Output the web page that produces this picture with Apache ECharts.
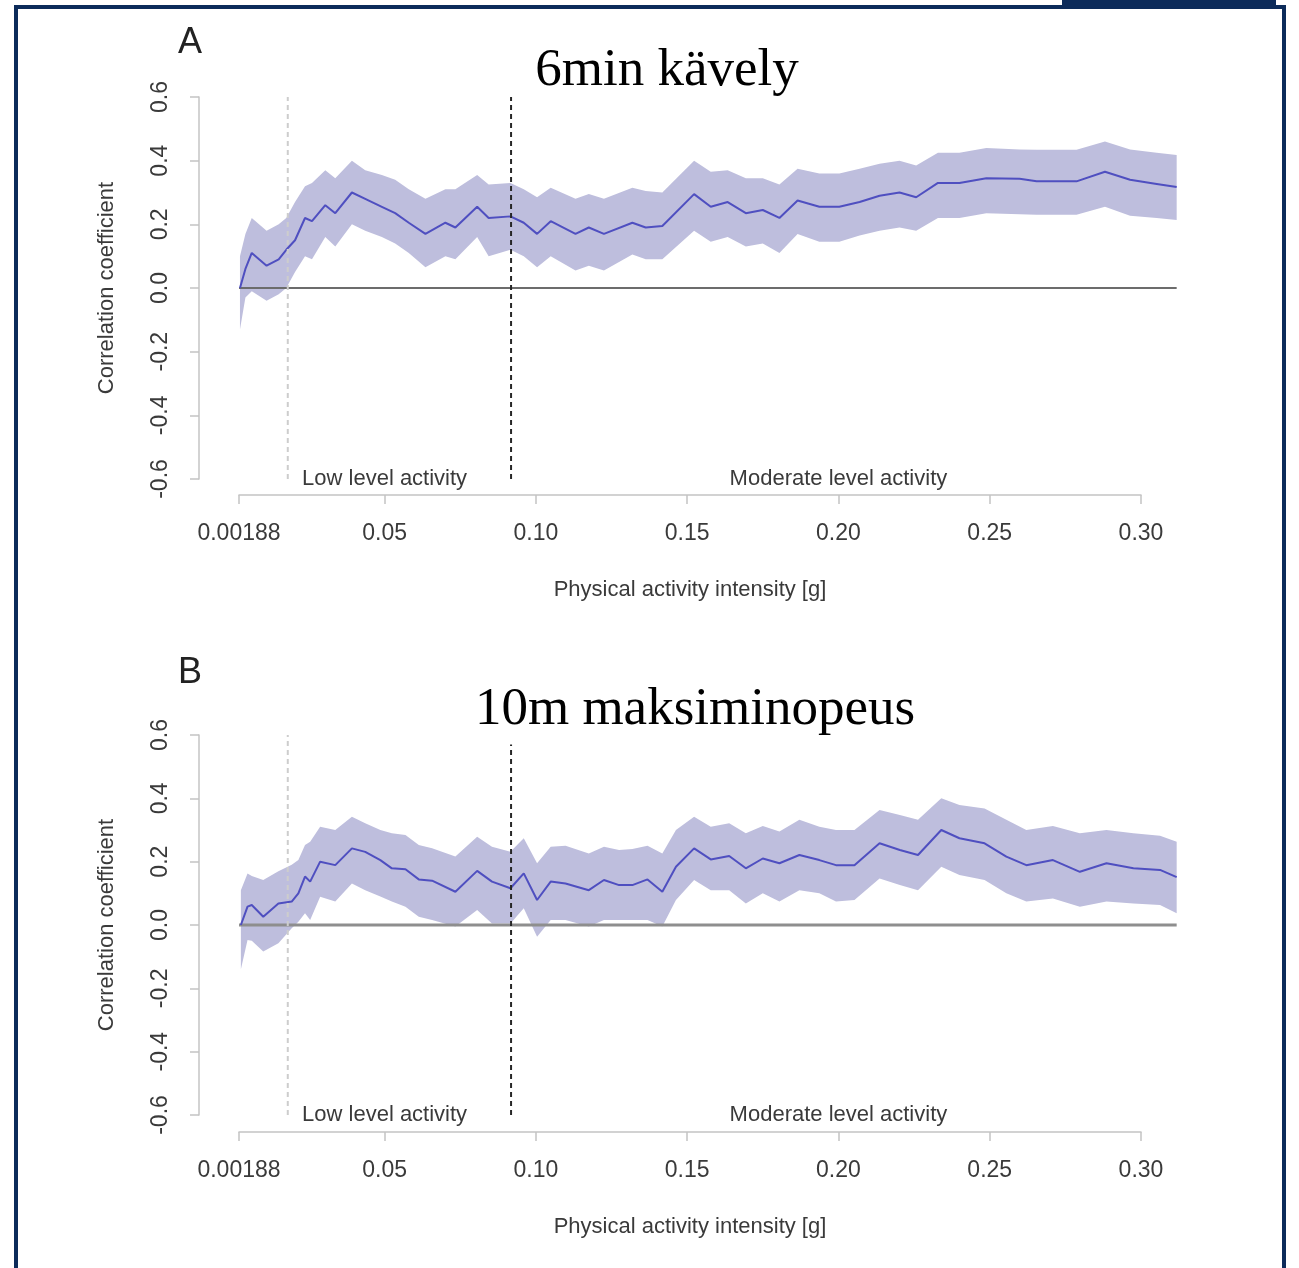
<!DOCTYPE html>
<html>
<head>
<meta charset="UTF-8">
<title>Correlation vs activity intensity</title>
<script src="https://cdn.jsdelivr.net/npm/echarts@6.0.0/dist/echarts.min.js"></script>
<style>
  html, body { margin: 0; padding: 0; background: #fff; }
  #main { width: 1299px; height: 1268px; }
</style>
</head>
<body>
<div id="main"></div>
<script>
// ---- data ----
var xTickVals = [0.00188, 0.05, 0.10, 0.15, 0.20, 0.25, 0.30];
var xTickLabels = ['0.00188', '0.05', '0.10', '0.15', '0.20', '0.25', '0.30'];
var yTickVals = [-0.6, -0.4, -0.2, 0, 0.2, 0.4, 0.6];
var yTickLabels = ['-0.6', '-0.4', '-0.2', '0.0', '0.2', '0.4', '0.6'];

var lowCut = 0.0180;   // light dashed line
var modCut = 0.0918;   // dark dashed line
var cutSpan = [-0.6, 0.6];
var zoneLabels = ['Low level activity', 'Moderate level activity'];
var zoneLabelX = [0.05, 0.20];
var zeroLineX = [0.00188, 0.3118];

var titles = ['6min kävely', '10m maksiminopeus'];
var panelLetters = ['A', 'B'];

// panel A: 6min walk
var xA = [0.0022, 0.0040, 0.0061, 0.0110, 0.0150, 0.0175, 0.0204, 0.0237, 0.0260, 0.0304,
  0.0337, 0.0392, 0.0436, 0.0491, 0.0535, 0.0580, 0.0635, 0.0701, 0.0734, 0.0806,
  0.0844, 0.0916, 0.0960, 0.1004, 0.1049, 0.1131, 0.1175, 0.1225, 0.1319, 0.1363,
  0.1418, 0.1523, 0.1578, 0.1634, 0.1694, 0.1750, 0.1805, 0.1865, 0.1937, 0.2003,
  0.2070, 0.2136, 0.2202, 0.2257, 0.2329, 0.2400, 0.2489, 0.2599, 0.2655, 0.2787,
  0.2881, 0.2964, 0.3052, 0.3118];
var meanA = [0.00, 0.06, 0.11, 0.07, 0.09, 0.12, 0.15, 0.22, 0.21, 0.26,
  0.235, 0.30, 0.28, 0.255, 0.235, 0.205, 0.17, 0.205, 0.19, 0.255,
  0.22, 0.225, 0.205, 0.17, 0.21, 0.17, 0.19, 0.17, 0.205, 0.19,
  0.195, 0.295, 0.255, 0.27, 0.235, 0.245, 0.22, 0.275, 0.255, 0.255,
  0.27, 0.29, 0.30, 0.285, 0.33, 0.33, 0.345, 0.343, 0.335, 0.335,
  0.365, 0.34, 0.327, 0.317];
var lowA = [-0.13, -0.03, -0.01, -0.04, -0.02, 0.00, 0.05, 0.10, 0.09, 0.16,
  0.13, 0.20, 0.18, 0.16, 0.14, 0.11, 0.065, 0.10, 0.09, 0.16,
  0.10, 0.12, 0.10, 0.065, 0.10, 0.055, 0.07, 0.055, 0.105, 0.09,
  0.09, 0.18, 0.145, 0.16, 0.13, 0.14, 0.11, 0.17, 0.145, 0.145,
  0.165, 0.18, 0.19, 0.18, 0.22, 0.22, 0.235, 0.232, 0.23, 0.23,
  0.255, 0.227, 0.22, 0.214];
var highA = [0.10, 0.17, 0.22, 0.18, 0.20, 0.22, 0.27, 0.32, 0.33, 0.37,
  0.345, 0.40, 0.37, 0.355, 0.34, 0.31, 0.28, 0.31, 0.31, 0.355,
  0.325, 0.33, 0.31, 0.285, 0.315, 0.28, 0.295, 0.28, 0.315, 0.305,
  0.30, 0.40, 0.365, 0.37, 0.345, 0.345, 0.325, 0.375, 0.36, 0.36,
  0.375, 0.39, 0.40, 0.385, 0.425, 0.425, 0.44, 0.435, 0.434, 0.434,
  0.46, 0.435, 0.425, 0.418];

// panel B: 10m max speed
var xB = [0.0025, 0.0047, 0.0061, 0.0099, 0.0149, 0.0193, 0.0215, 0.0237, 0.0254, 0.0287,
  0.0337, 0.0392, 0.0436, 0.0486, 0.0524, 0.0569, 0.0613, 0.0657, 0.0734, 0.0806,
  0.0855, 0.0916, 0.0960, 0.1004, 0.1049, 0.1098, 0.1175, 0.1225, 0.1275, 0.1319,
  0.1369, 0.1418, 0.1463, 0.1523, 0.1578, 0.1639, 0.1694, 0.1750, 0.1805, 0.1871,
  0.1937, 0.1992, 0.2053, 0.2136, 0.2203, 0.2263, 0.2340, 0.2400, 0.2483, 0.2555,
  0.2621, 0.2709, 0.2798, 0.2886, 0.2975, 0.3063, 0.3118];
var meanB = [0.00, 0.058, 0.063, 0.026, 0.068, 0.074, 0.10, 0.153, 0.137, 0.20,
  0.189, 0.242, 0.231, 0.205, 0.179, 0.176, 0.144, 0.14, 0.105, 0.171,
  0.137, 0.116, 0.163, 0.079, 0.137, 0.131, 0.11, 0.142, 0.126, 0.126,
  0.144, 0.105, 0.184, 0.242, 0.207, 0.218, 0.179, 0.21, 0.195, 0.221,
  0.205, 0.189, 0.189, 0.258, 0.237, 0.221, 0.30, 0.274, 0.258, 0.216,
  0.189, 0.205, 0.168, 0.195, 0.179, 0.174, 0.151];
var lowB = [-0.14, -0.047, -0.05, -0.084, -0.058, -0.01, 0.01, 0.037, 0.016, 0.089,
  0.074, 0.131, 0.11, 0.09, 0.074, 0.058, 0.026, 0.016, -0.005, 0.047,
  0.005, 0.005, 0.053, -0.037, 0.016, 0.016, -0.005, 0.016, 0.016, 0.016,
  0.016, -0.005, 0.079, 0.142, 0.11, 0.11, 0.068, 0.10, 0.074, 0.11,
  0.10, 0.074, 0.079, 0.147, 0.126, 0.11, 0.184, 0.158, 0.142, 0.10,
  0.074, 0.084, 0.058, 0.074, 0.068, 0.063, 0.037];
var highB = [0.11, 0.163, 0.155, 0.142, 0.17, 0.19, 0.205, 0.253, 0.263, 0.31,
  0.30, 0.342, 0.321, 0.30, 0.29, 0.284, 0.253, 0.242, 0.216, 0.279,
  0.247, 0.231, 0.274, 0.195, 0.247, 0.25, 0.226, 0.247, 0.237, 0.24,
  0.25, 0.226, 0.30, 0.342, 0.31, 0.321, 0.29, 0.313, 0.295, 0.332,
  0.31, 0.30, 0.30, 0.363, 0.347, 0.332, 0.40, 0.379, 0.368, 0.332,
  0.30, 0.313, 0.29, 0.30, 0.29, 0.282, 0.263];

// ---- chart ----
var myChart = echarts.init(document.getElementById('main'), null, { renderer: 'canvas' });

var sansFont = 'Liberation Sans, Arial, sans-serif';
var textGrey = '#3a3a3a';
var axisGrey = '#c4c4c4';
var bandColor = '#bebedd';

function pairs(xs, ys) {
  return xs.map(function (v, i) { return [v, ys[i]]; });
}

function labelFor(vals, labels) {
  return function (v) {
    for (var i = 0; i < vals.length; i++) {
      if (Math.abs(vals[i] - v) < 1e-9) return labels[i];
    }
    return '';
  };
}

// plot region reaches a bit past 0.30, the drawn x axis stops at 0.30
var plotMaxX = 0.3129;

var panels = [
  { x: xA, mean: meanA, low: lowA, high: highA, top: 97, bottom: 789, axisY: 495, zeroColor: '#6c6c6c', zeroWidth: 2 },
  { x: xB, mean: meanB, low: lowB, high: highB, top: 735, bottom: 153, axisY: 1132, zeroColor: '#8e8e8e', zeroWidth: 3 }
];

var grids = [], xAxes = [], yAxes = [], series = [];

panels.forEach(function (p, k) {
  var gMain = k * 2, gAxis = k * 2 + 1;

  // data grid
  grids.push({ left: 239, right: 119, top: p.top, bottom: p.bottom });
  // grid that only carries the detached x axis
  grids.push({ left: 239, right: 158, top: p.axisY - 1, height: 1 });

  xAxes.push({
    type: 'value', gridIndex: gMain, min: 0.00188, max: plotMaxX, show: false
  });
  xAxes.push({
    type: 'value', gridIndex: gAxis, min: 0.00188, max: 0.30, position: 'bottom',
    name: 'Physical activity intensity [g]',
    nameLocation: 'middle', nameGap: 84,
    nameTextStyle: { color: textGrey, fontSize: 22, fontFamily: sansFont },
    axisLine: { show: true, lineStyle: { color: axisGrey, width: 1.5 } },
    axisTick: { show: true, length: 9, customValues: xTickVals, lineStyle: { color: axisGrey, width: 1.5 } },
    axisLabel: {
      customValues: xTickVals, margin: 27,
      color: textGrey, fontSize: 23, fontFamily: sansFont,
      formatter: labelFor(xTickVals, xTickLabels)
    },
    splitLine: { show: false }
  });

  yAxes.push({
    type: 'value', gridIndex: gMain, min: -0.6, max: 0.6,
    offset: 40,
    name: 'Correlation coefficient',
    nameLocation: 'middle', nameGap: 81,
    nameTextStyle: { color: textGrey, fontSize: 22, fontFamily: sansFont },
    axisLine: { show: true, lineStyle: { color: axisGrey, width: 1.5 } },
    axisTick: { show: true, length: 9, customValues: yTickVals, lineStyle: { color: axisGrey, width: 1.5 } },
    axisLabel: {
      customValues: yTickVals, rotate: 90, margin: 27,
      color: textGrey, fontSize: 23, fontFamily: sansFont,
      formatter: labelFor(yTickVals, yTickLabels)
    },
    splitLine: { show: false }
  });
  yAxes.push({ type: 'value', gridIndex: gAxis, show: false });

  // confidence band drawn as one polygon through the axis scales
  series.push({
    type: 'custom', xAxisIndex: gMain, yAxisIndex: gMain, silent: true, clip: false,
    data: p.x.map(function (v, i) { return [v, p.low[i], p.high[i]]; }),
    renderItem: function (params, api) {
      if (params.dataIndex !== 0) return null;
      var pts = [], i;
      for (i = 0; i < p.x.length; i++) pts.push(api.coord([p.x[i], p.high[i]]));
      for (i = p.x.length - 1; i >= 0; i--) pts.push(api.coord([p.x[i], p.low[i]]));
      return { type: 'polygon', shape: { points: pts }, style: { fill: bandColor } };
    },
    z: 1
  });
  // intensity cut-off lines
  series.push({
    type: 'line', xAxisIndex: gMain, yAxisIndex: gMain,
    symbol: 'none', silent: true, z: 4,
    lineStyle: { color: '#cdcdcd', width: 2, type: [5, 4] },
    data: pairs([lowCut, lowCut], cutSpan)
  });
  series.push({
    type: 'line', xAxisIndex: gMain, yAxisIndex: gMain,
    symbol: 'none', silent: true, z: 4,
    lineStyle: { color: '#262626', width: 2, type: [5, 4] },
    data: pairs([modCut, modCut], cutSpan)
  });
  series.push({
    type: 'line', xAxisIndex: gMain, yAxisIndex: gMain,
    symbol: 'none', silent: true, z: 2,
    lineStyle: { color: p.zeroColor, width: p.zeroWidth },
    data: pairs(zeroLineX, [0, 0])
  });
  series.push({
    type: 'line', xAxisIndex: gMain, yAxisIndex: gMain,
    symbol: 'none', silent: true, z: 3,
    lineStyle: { color: '#4f4fc0', width: 2 },
    data: pairs(p.x, p.mean),
    markPoint: {
      silent: true, symbol: 'circle', symbolSize: 1,
      itemStyle: { color: 'rgba(0,0,0,0)' },
      label: {
        show: true, position: 'inside', formatter: '{b}',
        color: textGrey, fontSize: 22, fontFamily: sansFont
      },
      data: zoneLabels.map(function (t, i) {
        return { name: t, coord: [zoneLabelX[i], -0.6] };
      })
    }
  });
});

var navy = '#0c2b5a';

var option = {
  backgroundColor: '#ffffff',
  animation: false,
  grid: grids,
  xAxis: xAxes,
  yAxis: yAxes,
  series: series,
  graphic: [
    { type: 'polyline', z: 100, shape: { points: [[16, 1268], [16, 7], [1284, 7], [1284, 1268]] },
      style: { stroke: navy, lineWidth: 4, fill: null } },
    { type: 'rect', z: 100, shape: { x: 1062, y: 0, width: 214, height: 8 }, style: { fill: navy } },
    { type: 'text', z: 100, left: 178, top: 25,
      style: { text: panelLetters[0], fontSize: 36, fontFamily: sansFont, fill: '#222' } },
    { type: 'text', z: 100, left: 178, top: 655,
      style: { text: panelLetters[1], fontSize: 36, fontFamily: sansFont, fill: '#222' } },
    { type: 'text', z: 100, x: 667, y: 71,
      style: { text: titles[0], fontSize: 53, fontFamily: 'Liberation Serif, serif', fill: '#000',
        align: 'center', verticalAlign: 'middle' } },
    { type: 'text', z: 100, x: 695, y: 710,
      style: { text: titles[1], fontSize: 53, fontFamily: 'Liberation Serif, serif', fill: '#000',
        align: 'center', verticalAlign: 'middle', backgroundColor: '#fff', padding: [0, 4, 16, 4] } }
  ]
};

myChart.setOption(option);
</script>
</body>
</html>
